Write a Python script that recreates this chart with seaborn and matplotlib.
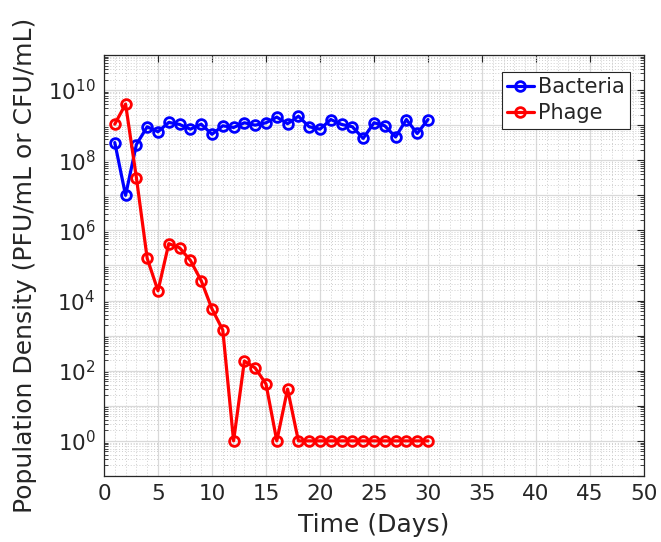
import numpy as np
import pandas as pd
import matplotlib
matplotlib.use("Agg")
import matplotlib.pyplot as plt
import seaborn as sns
from matplotlib.ticker import FixedLocator, NullFormatter, FuncFormatter

days = list(range(1, 31))
bacteria = [3.2e8, 1.0e7, 2.8e8, 9.0e8, 6.5e8, 1.2e9, 1.05e9, 7.7e8, 1.07e9, 5.5e8,
            9.6e8, 8.6e8, 1.17e9, 1.0e9, 1.17e9, 1.7e9, 1.1e9, 1.8e9, 9.0e8, 7.7e8,
            1.45e9, 1.05e9, 9.0e8, 4.2e8, 1.17e9, 9.6e8, 4.6e8, 1.45e9, 5.8e8, 1.45e9]
phage = [1.07e9, 4.0e9, 3.2e7, 1.6e5, 1.9e4, 4.2e5, 3.2e5, 1.4e5, 3.7e4, 5.8e3,
         1.45e3, 1, 1.9e2, 1.2e2, 42, 1, 30, 1, 1, 1,
         1, 1, 1, 1, 1, 1, 1, 1, 1, 1]
series_names = ["Bacteria", "Phage"]
series_colors = ["#0000ff", "#ff0000"]
x_ticks = [0, 5, 10, 15, 20, 25, 30, 35, 40, 45, 50]
y_label_exponents = [0, 2, 4, 6, 8, 10]

df = pd.DataFrame({
    "Day": days * 2,
    "Value": bacteria + phage,
    "Series": ["Bacteria"] * len(days) + ["Phage"] * len(days),
})

sns.set_style("white")
plt.rcParams["font.family"] = ["DejaVu Sans"]
txt = "#262626"

fig = plt.figure(figsize=(6.61, 5.42), dpi=100)
ax = fig.add_axes([0.1573, 0.1218, 0.9743 - 0.1573, 0.8985 - 0.1218])

for name, col in zip(series_names, series_colors):
    sns.lineplot(data=df[df["Series"] == name], x="Day", y="Value", ax=ax,
                 color=col, linewidth=2.3, marker="o", markersize=7,
                 markerfacecolor="none", markeredgecolor=col, markeredgewidth=2,
                 label=name, zorder=3)

ax.set_yscale("log")
ax.set_xlim(0, 50)
ax.set_ylim(1e-1, 1e11)

ax.set_xticks(x_ticks)
ax.set_xticklabels([str(t) for t in x_ticks])
ax.xaxis.set_minor_locator(FixedLocator(np.arange(0, 51, 1)))

major_y = [10.0 ** k for k in range(-1, 12)]
ax.yaxis.set_major_locator(FixedLocator(major_y))
ax.yaxis.set_major_formatter(FuncFormatter(
    lambda v, p: (r"$\mathdefault{10^{%d}}$" % int(round(np.log10(v))))
    if int(round(np.log10(v))) in y_label_exponents else ""))
minor_y = [m * 10.0 ** k for k in range(-1, 11) for m in range(2, 10)]
ax.yaxis.set_minor_locator(FixedLocator(minor_y))
ax.yaxis.set_minor_formatter(NullFormatter())

ax.grid(True, which="major", color="#d9d9d9", linewidth=0.9, linestyle="-", zorder=0)
ax.grid(True, which="minor", color="#cfcfcf", linewidth=0.7, linestyle=(0, (1, 2)), zorder=0)
ax.set_axisbelow(True)

ax.tick_params(axis="both", which="major", direction="in", length=5, width=0.8,
               colors=txt, labelsize=15.5, top=True, right=True, pad=6)
ax.tick_params(axis="y", which="minor", direction="in", length=3, width=0.6,
               colors=txt, left=True, right=True)
ax.tick_params(axis="x", which="minor", length=0)
for s in ax.spines.values():
    s.set_color(txt)
    s.set_linewidth(0.9)
    s.set_visible(True)

ax.set_xlabel("Time (Days)", fontsize=18, color=txt, labelpad=6)
ax.set_ylabel("Population Density (PFU/mL or CFU/mL)", fontsize=18, color=txt, labelpad=8)

leg = ax.legend(loc="upper right", bbox_to_anchor=(0.974, 0.96), borderaxespad=0,
                fontsize=15, frameon=True, fancybox=False, edgecolor=txt, framealpha=1,
                handlelength=1.3, handletextpad=0.2, borderpad=0.25, labelspacing=0.3)
leg.get_frame().set_linewidth(0.8)

fig.savefig("out.png", dpi=100)
